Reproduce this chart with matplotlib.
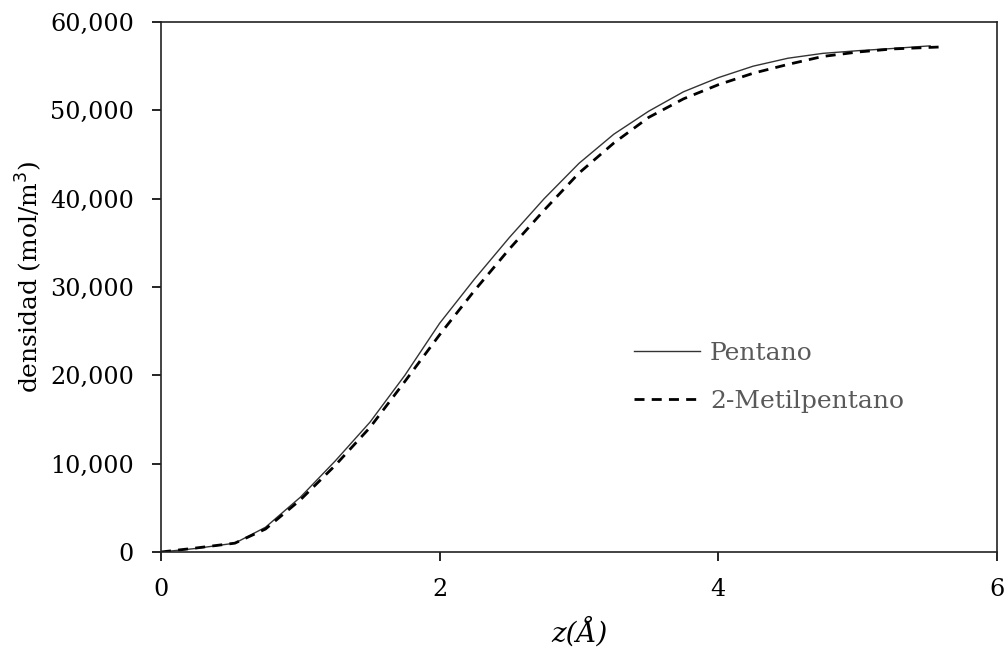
import matplotlib
matplotlib.use("Agg")
import matplotlib.pyplot as plt
from matplotlib.ticker import FuncFormatter, MultipleLocator

# Density profiles across the interface
z_pentano = [0, 0.25, 0.53, 0.75, 1.0, 1.25, 1.5, 1.75, 2.0, 2.25, 2.5, 2.75,
             3.0, 3.25, 3.5, 3.75, 4.0, 4.25, 4.5, 4.75, 5.0, 5.25, 5.52]
rho_pentano = [0, 400, 1000, 2800, 6200, 10300, 14700, 20000, 25900, 30900,
               35600, 40000, 44000, 47300, 49900, 52100, 53700, 55000, 55900,
               56450, 56750, 57000, 57300]

z_metil = [0, 0.25, 0.53, 0.75, 1.0, 1.25, 1.5, 1.75, 2.0, 2.25, 2.5, 2.75,
           3.0, 3.25, 3.5, 3.75, 4.0, 4.25, 4.5, 4.75, 5.0, 5.25, 5.62]
rho_metil = [0, 450, 1000, 2600, 5900, 9800, 14100, 19300, 24600, 29600,
             34300, 38700, 42900, 46300, 49200, 51300, 52900, 54200, 55200,
             56100, 56600, 56950, 57190]

x_ticks = [0, 2, 4, 6]
y_max = 60000

plt.rcParams['font.family'] = ['DejaVu Serif']
TICK_FS = 17.2
LEG_FS = 18

fig = plt.figure(figsize=(10.07, 6.52), dpi=100)
ax = fig.add_axes([161 / 1007, 100 / 652, 836 / 1007, 530 / 652])

ax.plot(z_pentano, rho_pentano, color='#333333', lw=1.0, label='Pentano')
ax.plot(z_metil, rho_metil, color='black', lw=2.0, dashes=(3.6, 2.6),
        label='2-Metilpentano')

ax.set_xlim(0, 6)
ax.set_ylim(0, y_max)
ax.set_xticks(x_ticks)
ax.yaxis.set_major_locator(MultipleLocator(10000))
ax.yaxis.set_major_formatter(FuncFormatter(lambda v, p: f"{v:,.0f}"))

ax.tick_params(axis='both', direction='out', length=6.5, width=1.2,
               labelsize=TICK_FS, colors='black')
ax.tick_params(axis='x', pad=12)
ax.tick_params(axis='y', pad=13)
for s in ax.spines.values():
    s.set_color('#222222')
    s.set_linewidth(1.2)

ax.set_xlabel('z(Å)', fontsize=20, fontstyle='italic', labelpad=12)
ax.set_ylabel('densidad (mol/m$^3$)', fontsize=17.9, labelpad=4)
ax.yaxis.label.set_y(0.5 + 10 / 530)

leg = ax.legend(loc='center left', bbox_to_anchor=(473 / 836, 0.330),
                frameon=False, fontsize=LEG_FS, handlelength=2.64,
                handletextpad=0.4, labelspacing=1.0, borderpad=0,
                borderaxespad=0)
for t in leg.get_texts():
    t.set_color('#595959')

fig.savefig('out.png', dpi=100)
